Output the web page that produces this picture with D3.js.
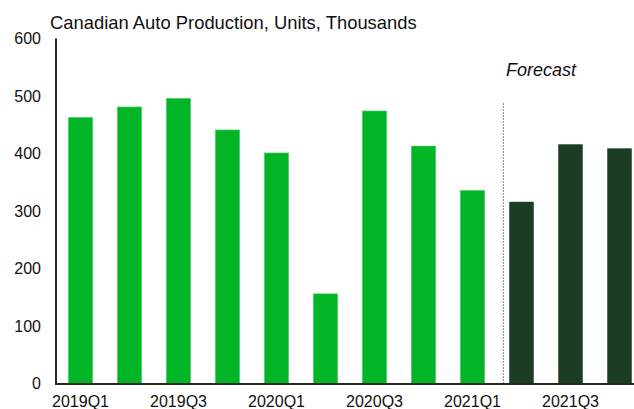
<!DOCTYPE html>
<html>
<head>
<meta charset="utf-8">
<script src="https://cdn.jsdelivr.net/npm/d3@7"></script>
<style>
  html, body { margin: 0; padding: 0; background: #fff; }
  svg { display: block; font-family: Arial, "Liberation Sans", sans-serif; }
</style>
</head>
<body>
<svg id="chart" width="634" height="409"></svg>
<script>
const categories = ["2019Q1","2019Q2","2019Q3","2019Q4","2020Q1","2020Q2","2020Q3","2020Q4","2021Q1","2021Q2","2021Q3","2021Q4"];
const production = [463, 481, 496, 441, 401, 156, 474, 413, 336, 316, 416, 409];
const isForecast = [false,false,false,false,false,false,false,false,false,true,true,true];
const yTicks = [0, 100, 200, 300, 400, 500, 600];
const xTickLabels = ["2019Q1","2019Q3","2020Q1","2020Q3","2021Q1","2021Q3"];
const title = "Canadian Auto Production, Units, Thousands";
const forecastLabel = "Forecast";

const svg = d3.select("#chart");
const plotLeft = 56, plotRight = 644, plotTop = 38.5, plotBottom = 383.5;

const x = d3.scaleBand().domain(categories).range([plotLeft, plotRight]).paddingInner(0.5).paddingOuter(0.25);
const y = d3.scaleLinear().domain([0, 600]).range([plotBottom, plotTop]);

// bars
svg.append("g").selectAll("rect").data(categories).join("rect")
  .attr("x", d => x(d))
  .attr("width", x.bandwidth())
  .attr("y", (d, i) => y(production[i]))
  .attr("height", (d, i) => y(0) - y(production[i]))
  .attr("fill", (d, i) => isForecast[i] ? "#1a3d24" : "#02b526")
  .attr("stroke", (d, i) => isForecast[i] ? "none" : "#6bd384")
  .attr("stroke-width", 0.6);

// forecast divider
const firstF = categories[isForecast.indexOf(true)];
const divX = x(firstF) - x.step() * 0.12;
svg.append("line")
  .attr("x1", divX).attr("x2", divX)
  .attr("y1", y(500) + 7).attr("y2", y(0))
  .attr("stroke", "#8a8a8a").attr("stroke-width", 1)
  .attr("stroke-dasharray", "2,1");

// y axis
const yAxis = d3.axisLeft(y).tickValues(yTicks).tickSize(0).tickPadding(15);
const gy = svg.append("g").attr("transform", `translate(${plotLeft},0)`).call(yAxis);
gy.select(".domain").remove();
gy.selectAll("text").attr("font-size", 16).attr("fill", "#111").attr("font-family", "Arial, 'Liberation Sans', sans-serif");

// x axis
const xAxis = d3.axisBottom(x).tickValues(xTickLabels).tickSize(0).tickPadding(12);
const gx = svg.append("g").attr("transform", `translate(0,${plotBottom})`).call(xAxis);
gx.select(".domain").remove();
gx.selectAll("text").attr("font-size", 16).attr("fill", "#111").attr("font-family", "Arial, 'Liberation Sans', sans-serif");

// axis lines
svg.append("line").attr("x1", plotLeft).attr("x2", plotLeft).attr("y1", plotTop).attr("y2", plotBottom + 1)
  .attr("stroke", "#26291b").attr("stroke-width", 2);
svg.append("line").attr("x1", plotLeft - 1).attr("x2", 634).attr("y1", plotBottom + 0.5).attr("y2", plotBottom + 0.5)
  .attr("stroke", "#26291b").attr("stroke-width", 2);

// title
svg.append("text").attr("x", 50).attr("y", 29)
  .attr("font-size", 18.4).attr("fill", "#111").text(title);

// forecast label
svg.append("text").attr("x", 506).attr("y", 76)
  .attr("font-size", 18).attr("font-style", "italic").attr("fill", "#111").text(forecastLabel);
</script>
</body>
</html>
